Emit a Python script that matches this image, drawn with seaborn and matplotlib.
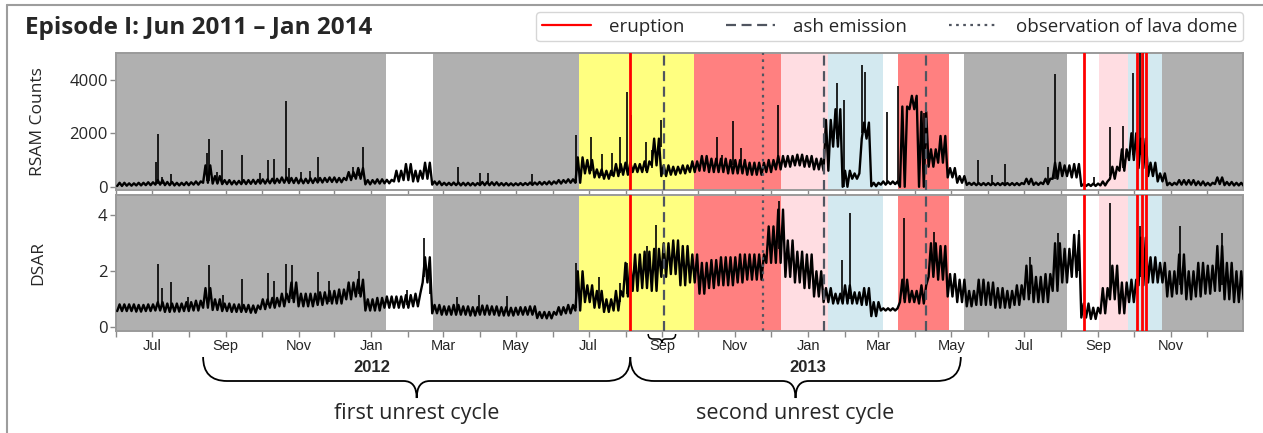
import numpy as np
import pandas as pd
import matplotlib
matplotlib.use("Agg")
import matplotlib.pyplot as plt
import matplotlib.dates as mdates
from matplotlib.path import Path
from matplotlib.patches import PathPatch
from matplotlib.lines import Line2D
from matplotlib.transforms import blended_transform_factory
import seaborn as sns

# ---------------------------------------------------------------- data
START = pd.Timestamp("2011-06-01")
END = pd.Timestamp("2014-01-01")
BLOCK_DAYS = 8  # each min/max pair below summarises one 8-day block

# RSAM counts: lower / upper level of the trace in each 8-day block
rsam_min = [30, 40, 50, 60, 80, 60, 50, 60, 80, 150,
            120, 100, 90, 100, 110, 120, 130, 150, 140, 130,
            140, 160, 180, 170, 250, 300, 90, 120, 130, 200,
            250, 200, 300, 80, 60, 60, 50, 50, 60, 60,
            50, 50, 60, 70, 80, 90, 120, 150, 150, 500,
            350, 300, 400, 450, 550, 550, 800, 400, 450, 500,
            550, 600, 550, 550, 500, 500, 450, 450, 550, 650,
            750, 800, 750, 650, 600, 1500, 0, 300, 1800, 20,
            80, 100, 0, 2900, 0, 750, 900, 350, 150, 70,
            60, 60, 60, 60, 60, 100, 70, 100, 300, 400,
            350, 30, 30, 50, 300, 600, 1000, 700, 400, 200,
            60, 80, 80, 60, 50, 100, 60, 50, 40]
rsam_max = [150, 130, 150, 170, 250, 180, 150, 170, 200, 800,
            400, 250, 220, 250, 260, 280, 300, 350, 330, 300,
            320, 330, 350, 330, 550, 700, 250, 280, 260, 600,
            850, 600, 900, 200, 150, 160, 150, 140, 180, 170,
            140, 130, 140, 160, 180, 200, 250, 280, 1100, 1000,
            650, 600, 850, 900, 850, 950, 1800, 800, 750, 800,
            950, 1150, 1050, 1050, 1000, 1000, 900, 900, 1000, 1150,
            1150, 1200, 1150, 1050, 2500, 2900, 600, 500, 2400, 150,
            200, 200, 3000, 3400, 2800, 1400, 1900, 700, 400, 150,
            140, 140, 140, 140, 140, 300, 160, 300, 900, 800,
            850, 100, 120, 200, 750, 1400, 2000, 1800, 900, 500,
            150, 250, 250, 200, 150, 350, 180, 150, 120]

# short RSAM bursts: day after 1 Jun 2011, level at the foot, peak level
rsam_burst_day = [33.6, 35.5, 38.3, 46.1, 76.6, 78.0, 84.5, 89.2, 105.4, 120.8,
                  127.8, 132.0, 142.3, 145.1, 154.9, 162.2, 169.7, 198.3, 203.3, 206.7,
                  286.4, 305.4, 311.5, 348.7, 385.9, 397.7, 407.2, 415.3, 422.2, 428.4,
                  431.8, 443.8, 449.4, 456.4, 503.4, 508.1, 517.3, 523.5, 555.1, 604.6,
                  610.2, 625.6, 627.5, 646.5, 655.5, 677.3, 722.6, 734.1, 745.3, 780.8,
                  787.0, 819.4, 833.3, 844.2, 851.9, 858.1, 860.3]
rsam_burst_foot = [100, 100, 100, 100, 200, 200, 150, 150, 150, 200,
                   200, 200, 250, 250, 200, 200, 250, 350, 400, 500,
                   100, 100, 100, 100, 150, 600, 400, 400, 500, 600,
                   700, 600, 700, 1500, 800, 800, 800, 800, 900, 1800,
                   0, 2000, 2000, 100, 200, 1000, 100, 100, 100, 200,
                   300, 60, 400, 700, 1200, 1200, 1200]
rsam_burst_peak = [940, 1975, 375, 460, 1250, 1790, 560, 1375, 1200, 500,
                   1000, 1050, 3190, 690, 540, 590, 1100, 725, 650, 1500,
                   725, 500, 525, 475, 1940, 1850, 1225, 1250, 1850, 3560,
                   2690, 1690, 1375, 2500, 1850, 1190, 2475, 1440, 3060, 3875,
                   3250, 4560, 4300, 2810, 3750, 2750, 1000, 440, 840, 750,
                   4225, 375, 2250, 2275, 4250, 5500, 5500]

# DSAR: lower / upper level of the trace in each 8-day block
dsar_min = [0.58, 0.58, 0.56, 0.58, 0.60, 0.55, 0.56, 0.58, 0.60, 0.70,
            0.62, 0.58, 0.55, 0.55, 0.52, 0.65, 0.70, 0.75, 0.90, 0.75,
            0.75, 0.80, 0.85, 0.85, 1.00, 1.10, 0.60, 0.60, 0.70, 0.70,
            0.70, 0.75, 1.60, 0.50, 0.45, 0.45, 0.45, 0.42, 0.45, 0.45,
            0.42, 0.42, 0.45, 0.45, 0.33, 0.32, 0.45, 0.50, 0.60, 0.90,
            0.70, 0.55, 0.60, 1.10, 1.30, 1.40, 1.30, 1.80, 1.90, 1.50,
            1.60, 1.20, 1.40, 1.50, 1.50, 1.60, 1.70, 1.70, 2.30, 2.30,
            1.80, 1.60, 1.40, 1.10, 0.90, 0.85, 0.85, 0.85, 0.80, 0.40,
            0.60, 0.60, 0.90, 0.90, 0.85, 1.80, 1.70, 1.10, 0.90, 0.75,
            0.80, 0.80, 0.70, 0.70, 0.80, 1.00, 0.90, 0.90, 1.30, 1.60,
            1.80, 0.35, 0.30, 0.50, 1.00, 0.50, 0.90, 1.50, 1.60, 1.60,
            1.10, 1.20, 1.00, 1.10, 1.20, 1.30, 1.00, 0.90, 1.00]
dsar_max = [0.82, 0.82, 0.80, 0.82, 0.90, 0.85, 0.85, 0.90, 0.95, 1.40,
            1.00, 0.85, 0.82, 0.80, 0.78, 1.00, 1.05, 1.20, 1.60, 1.20,
            1.20, 1.25, 1.30, 1.35, 1.60, 1.70, 1.00, 1.05, 1.10, 1.10,
            1.15, 1.20, 2.50, 0.80, 0.75, 0.80, 0.75, 0.72, 0.78, 0.75,
            0.72, 0.70, 0.72, 0.75, 0.55, 0.55, 0.72, 0.80, 2.00, 1.50,
            1.30, 1.00, 1.30, 2.30, 2.60, 2.70, 2.80, 3.00, 3.10, 2.90,
            2.60, 2.30, 2.40, 2.50, 2.50, 2.60, 2.60, 2.60, 3.60, 4.20,
            3.10, 2.70, 2.60, 2.00, 1.40, 1.20, 1.50, 1.25, 1.40, 0.90,
            0.68, 0.68, 1.70, 1.30, 1.50, 3.00, 2.90, 1.90, 1.70, 1.30,
            1.70, 1.60, 1.40, 1.30, 1.50, 2.20, 1.80, 1.90, 3.00, 2.80,
            3.30, 0.85, 0.70, 1.40, 2.20, 1.60, 1.70, 3.20, 2.50, 2.30,
            2.00, 2.60, 2.00, 2.30, 2.20, 2.90, 2.30, 2.00, 1.80]

dsar_burst_day = [35.5, 38.3, 46.1, 60.7, 78.0, 90.0, 105.4, 127.8, 132.0, 142.3,
                  147.4, 169.7, 178.4, 203.3, 243.8, 258.4, 262.9, 285.8, 304.5, 327.8,
                  385.9, 404.6, 422.8, 428.4, 445.2, 452.3, 555.7, 608.8, 615.0, 660.0,
                  685.7, 765.9, 789.1, 807.3, 833.3, 858.5, 892.0, 926.7]
dsar_burst_foot = [0.75, 0.75, 0.70, 0.70, 1.00, 0.70, 0.70, 0.80, 0.80, 1.00,
                   1.00, 0.90, 0.90, 1.20, 0.80, 1.80, 1.20, 0.60, 0.60, 0.60,
                   0.70, 1.00, 0.90, 1.20, 1.60, 1.80, 2.80, 1.00, 1.00, 1.00,
                   2.00, 1.20, 1.50, 2.00, 1.20, 1.80, 1.50, 1.50]
dsar_burst_peak = [2.25, 1.42, 1.60, 1.10, 2.23, 1.15, 1.73, 1.95, 1.65, 2.25,
                   2.23, 1.98, 1.65, 2.00, 1.33, 3.18, 2.50, 1.10, 1.15, 1.12,
                   2.29, 1.80, 1.57, 2.30, 2.90, 3.65, 4.49, 2.40, 4.07, 3.90,
                   3.40, 2.50, 3.38, 3.48, 4.43, 3.60, 3.63, 3.38]

# background phases
phase_start = ["2011-06-01", "2012-02-22", "2012-06-23", "2012-09-27", "2012-12-09",
               "2013-01-18", "2013-03-17", "2013-05-12", "2013-09-02", "2013-09-26",
               "2013-10-25"]
phase_end = ["2012-01-13", "2012-06-23", "2012-09-27", "2012-12-09", "2013-01-18",
             "2013-03-05", "2013-04-29", "2013-08-06", "2013-09-26", "2013-10-25",
             "2014-01-01"]
phase_color = ["#b0b0b0", "#b0b0b0", "#ffff80", "#ff8080", "#ffdde2",
               "#d3e9f0", "#ff8080", "#b0b0b0", "#ffdde2", "#d3e9f0",
               "#b0b0b0"]

eruptions = ["2012-08-05", "2013-08-20", "2013-10-04", "2013-10-08", "2013-10-11"]
ash_emissions = ["2012-09-02", "2013-01-14", "2013-04-10"]
dome_sightings = ["2012-11-24"]

# ---------------------------------------------------------------- style
sns.set_theme(style="ticks")
plt.rcParams["font.family"] = ["Open Sans", "DejaVu Sans"]
plt.rcParams["axes.edgecolor"] = "#9a9a9a"
plt.rcParams["axes.linewidth"] = 1.4

W, H = 1263, 433
fig = plt.figure(figsize=(W / 100, H / 100), dpi=100)


def fx(px):
    return px / W


def fy(py):
    return 1 - py / H


ax_r = fig.add_axes([fx(116), fy(190), fx(1243) - fx(116), fy(53) - fy(190)])
ax_d = fig.add_axes([fx(116), fy(331), fx(1243) - fx(116), fy(195) - fy(331)],
                    sharex=ax_r)


def jagged_trace(lo, hi):
    """Alternate between the low and high level of each block every 2 days."""
    n = len(lo)
    k = np.repeat(np.arange(n), 4)
    days = BLOCK_DAYS * k + np.tile([1, 3, 5, 7], n)
    vals = np.empty(4 * n)
    vals[0::4] = lo
    vals[1::4] = hi
    vals[2::4] = lo
    vals[3::4] = hi
    return START + pd.to_timedelta(days, unit="D"), vals


def to_dates(days):
    return START + pd.to_timedelta(np.asarray(days), unit="D")


panels = [
    (ax_r, rsam_min, rsam_max, rsam_burst_day, rsam_burst_foot, rsam_burst_peak),
    (ax_d, dsar_min, dsar_max, dsar_burst_day, dsar_burst_foot, dsar_burst_peak),
]

for ax, lo, hi, bday, bfoot, bpeak in panels:
    ax.set_facecolor("white")
    for s, e, c in zip(phase_start, phase_end, phase_color):
        ax.axvspan(pd.Timestamp(s), pd.Timestamp(e), color=c, lw=0, zorder=0)
    x, y = jagged_trace(lo, hi)
    sns.lineplot(x=x, y=y, ax=ax, color="black", linewidth=1.7,
                 estimator=None, sort=False, zorder=3)
    ax.vlines(to_dates(bday), bfoot, bpeak, color="black", lw=1.2, zorder=3)
    for d in eruptions:
        ax.axvline(pd.Timestamp(d), color="#ff0000", lw=2.0, zorder=5)
    for d in ash_emissions:
        ax.axvline(pd.Timestamp(d), color="#505560", lw=1.6,
                   ls=(0, (4.5, 2.5)), zorder=5)
    for d in dome_sightings:
        ax.axvline(pd.Timestamp(d), color="#505560", lw=1.6,
                   ls=(0, (1.2, 2.0)), zorder=5)
    ax.set_xlabel("")
    ax.tick_params(axis="both", which="both", direction="out", length=4,
                   width=1, color="#8a8a8a", labelsize=12, pad=2)

ax_r.set_xlim(START, pd.Timestamp("2013-12-31 12:00"))
ax_r.set_ylim(-120, 5000)
ax_r.set_yticks([0, 2000, 4000])
ax_d.set_ylim(-0.13, 4.72)
ax_d.set_yticks([0, 2, 4])
ax_r.set_ylabel("RSAM Counts", fontsize=12.5)
ax_d.set_ylabel("DSAR", fontsize=12.5)
for ax in (ax_r, ax_d):
    ax.yaxis.set_label_coords(-0.062, 0.5)

ax_d.xaxis.set_major_locator(mdates.MonthLocator(bymonth=[1, 3, 5, 7, 9, 11]))
ax_d.xaxis.set_minor_locator(mdates.MonthLocator())
ax_d.xaxis.set_major_formatter(mdates.DateFormatter("%b"))
plt.setp(ax_r.get_xticklabels(), visible=False)
for lab in ax_d.get_xticklabels():
    lab.set_family(["Liberation Sans", "DejaVu Sans"])
    lab.set_fontsize(10.5)

# ---------------------------------------------------------------- annotations
tr = blended_transform_factory(ax_d.transData, fig.transFigure)


def num(d):
    return mdates.date2num(pd.Timestamp(d))


def brace(x0, x1, y_end, y_bar, y_tip, r_end, r_tip, lw=1.3):
    a, b = num(x0), num(x1)
    c = (a + b) / 2
    verts = [(a, y_end), (a, y_bar), (a + r_end, y_bar),
             (c - r_tip, y_bar), (c, y_bar), (c, y_tip),
             (c, y_bar), (c + r_tip, y_bar),
             (b - r_end, y_bar), (b, y_bar), (b, y_end)]
    codes = [Path.MOVETO, Path.CURVE3, Path.CURVE3, Path.LINETO,
             Path.CURVE3, Path.CURVE3, Path.CURVE3, Path.CURVE3,
             Path.LINETO, Path.CURVE3, Path.CURVE3]
    fig.add_artist(PathPatch(Path(verts, codes), transform=tr, fill=False,
                             lw=lw, edgecolor="black", clip_on=False))
    return c


c1 = brace("2011-08-13", "2012-08-05", fy(357), fy(381), fy(398), 20, 11)
c2 = brace("2012-08-05", "2013-05-09", fy(357), fy(381), fy(398), 20, 11)
brace("2012-08-20", "2012-09-12", fy(334), fy(339), fy(343), 4, 3, lw=1.1)

fig.text(c1, fy(413), "first unrest cycle", transform=tr, ha="center",
         va="center", fontsize=15.5)
fig.text(c2, fy(413), "second unrest cycle", transform=tr, ha="center",
         va="center", fontsize=15.5)
for yr in ("2012", "2013"):
    fig.text(num(f"{yr}-01-01"), fy(368), yr, transform=tr, ha="center",
             va="center", fontsize=12, weight="bold",
             family=["Liberation Sans", "DejaVu Sans"])

fig.text(fx(25), fy(28), "Episode I: Jun 2011 \u2013 Jan 2014", fontsize=17.5,
         weight="bold", va="center", ha="left")

handles = [Line2D([], [], color="#ff0000", lw=1.6),
           Line2D([], [], color="#505560", lw=1.6, ls=(0, (4.5, 2.5))),
           Line2D([], [], color="#505560", lw=1.6, ls=(0, (1.2, 2.0)))]
fig.legend(handles, ["eruption", "ash emission", "observation of lava dome"],
           loc="upper right", bbox_to_anchor=(fx(1243), fy(12)), ncol=3,
           fontsize=13.5, frameon=True, fancybox=True, edgecolor="#cccccc",
           handlelength=2.6, columnspacing=2.2, handletextpad=1.0,
           borderpad=0.3, borderaxespad=0)

# outer frame
fig.add_artist(Line2D([fx(7), 1], [fy(5), fy(5)], color="#9d9d9d", lw=1.5,
                      transform=fig.transFigure))
fig.add_artist(Line2D([fx(7), fx(7)], [0, fy(5)], color="#9d9d9d", lw=1.5,
                      transform=fig.transFigure))

fig.savefig("out.png", dpi=100)
